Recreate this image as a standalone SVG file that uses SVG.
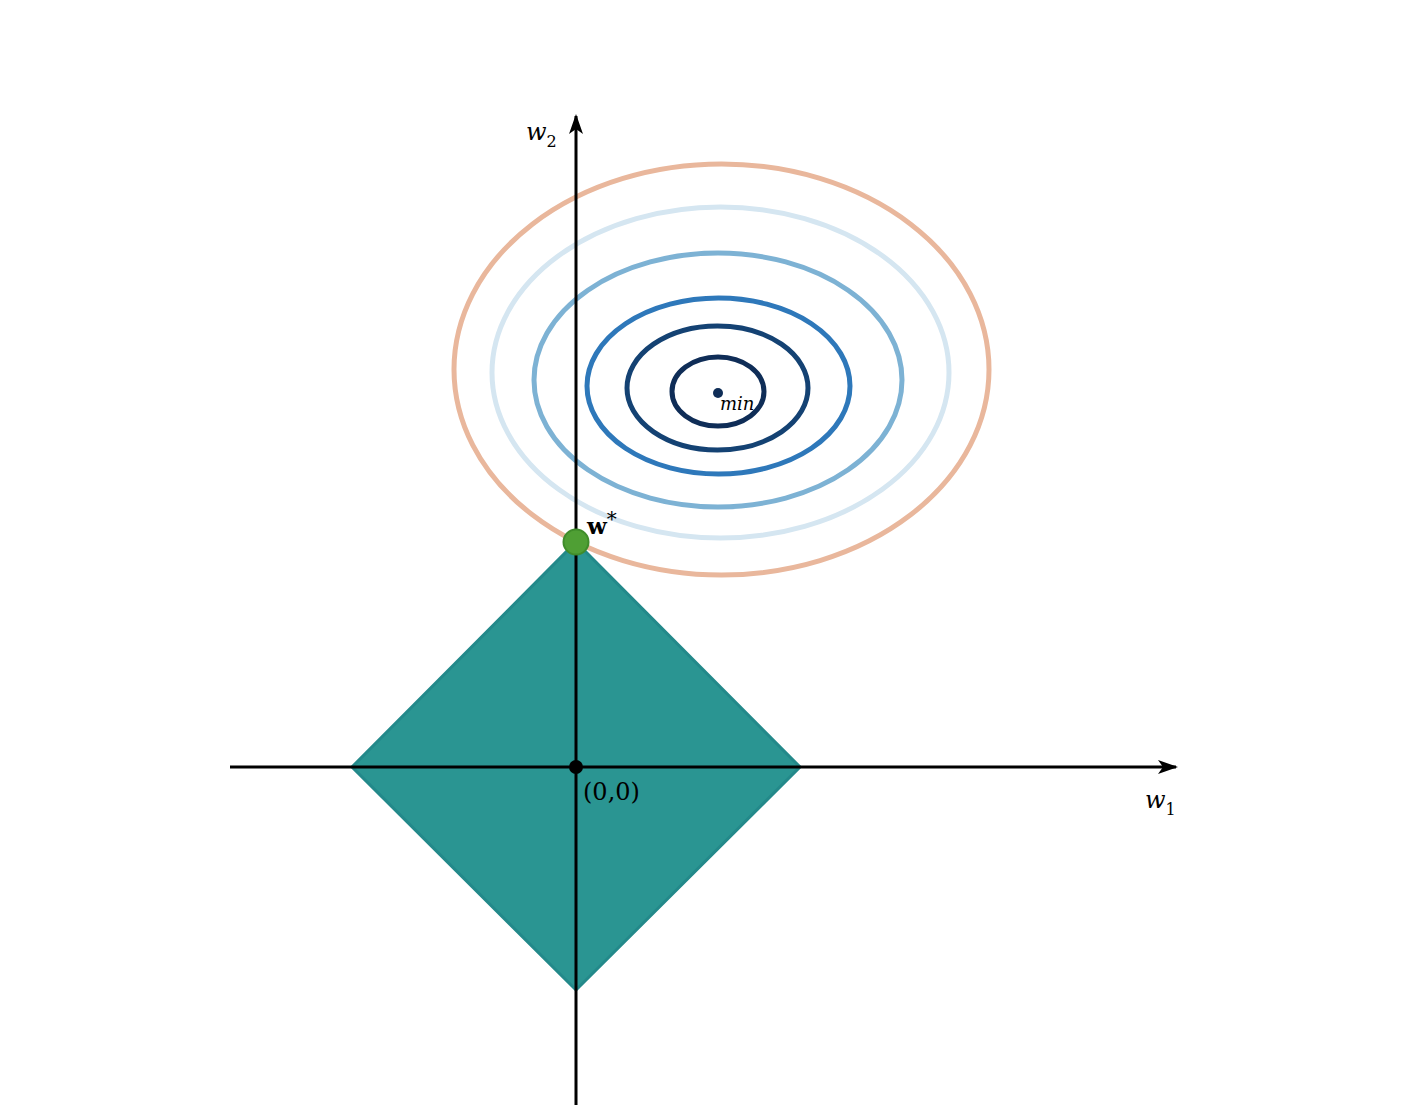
<svg xmlns="http://www.w3.org/2000/svg" width="1413" height="1105" viewBox="0 0 1413 1105">
<style>
.c{fill:none;stroke-width:5}
.t{font-family:"DejaVu Serif","Liberation Serif",serif;fill:#000}
.ax{stroke:#000;stroke-width:3;fill:none}
</style>
<defs>
<marker id="ah" viewBox="0 0 20 14" refX="18" refY="7" markerWidth="20" markerHeight="14" markerUnits="userSpaceOnUse" orient="auto">
<path d="M0,0 L20,7 L0,14 L5,7 Z" fill="#000"/>
</marker>
</defs>
<rect width="1413" height="1105" fill="#fff"/>
<g id="constraint">
<polygon points="576,542 800,767 576,990 352,767" fill="#2a9592" stroke="#23898a" stroke-width="3"/>
</g>
<g id="contours">
<ellipse class="c" cx="721.5" cy="369.5" rx="267.5" ry="205.5" stroke="#e9b79c"/>
<ellipse class="c" cx="720.5" cy="372.5" rx="228.5" ry="165.5" stroke="#d5e6f1"/>
<ellipse class="c" cx="718" cy="380" rx="184" ry="127" stroke="#7db2d4"/>
<ellipse class="c" cx="718.5" cy="386" rx="131.5" ry="88" stroke="#2e78ba"/>
<ellipse class="c" cx="717.5" cy="388" rx="90.5" ry="62" stroke="#144273"/>
<ellipse class="c" cx="718" cy="391.5" rx="46" ry="34.5" stroke="#0f2d57"/>
</g>
<g id="min">
<circle cx="718" cy="393" r="5" fill="#0f2d57"/>
<text class="t" x="720" y="410" font-size="18" font-style="italic">min</text>
</g>
<g id="axes">
<line class="ax" x1="230" y1="767" x2="1176" y2="767" marker-end="url(#ah)"/>
<line class="ax" x1="576" y1="1105" x2="576" y2="116" marker-end="url(#ah)"/>
</g>
<g id="origin">
<circle cx="576" cy="767" r="7" fill="#000"/>
<text class="t" x="583" y="800" font-size="24">(0,0)</text>
</g>
<g id="labels">
<text class="t" x="526" y="140" font-size="24" font-style="italic">w<tspan font-size="16" dy="7" font-style="normal">2</tspan></text>
<text class="t" x="1145" y="808" font-size="24" font-style="italic">w<tspan font-size="16" dy="7" font-style="normal">1</tspan></text>
</g>
<g id="wstar">
<circle cx="576" cy="542" r="12.5" fill="#4f9f34" stroke="#3f8c2a" stroke-width="2"/>
<text class="t" x="587" y="534" font-size="23" font-weight="bold">w<tspan font-size="20" dy="-8" font-weight="normal">*</tspan></text>
</g>
</svg>
